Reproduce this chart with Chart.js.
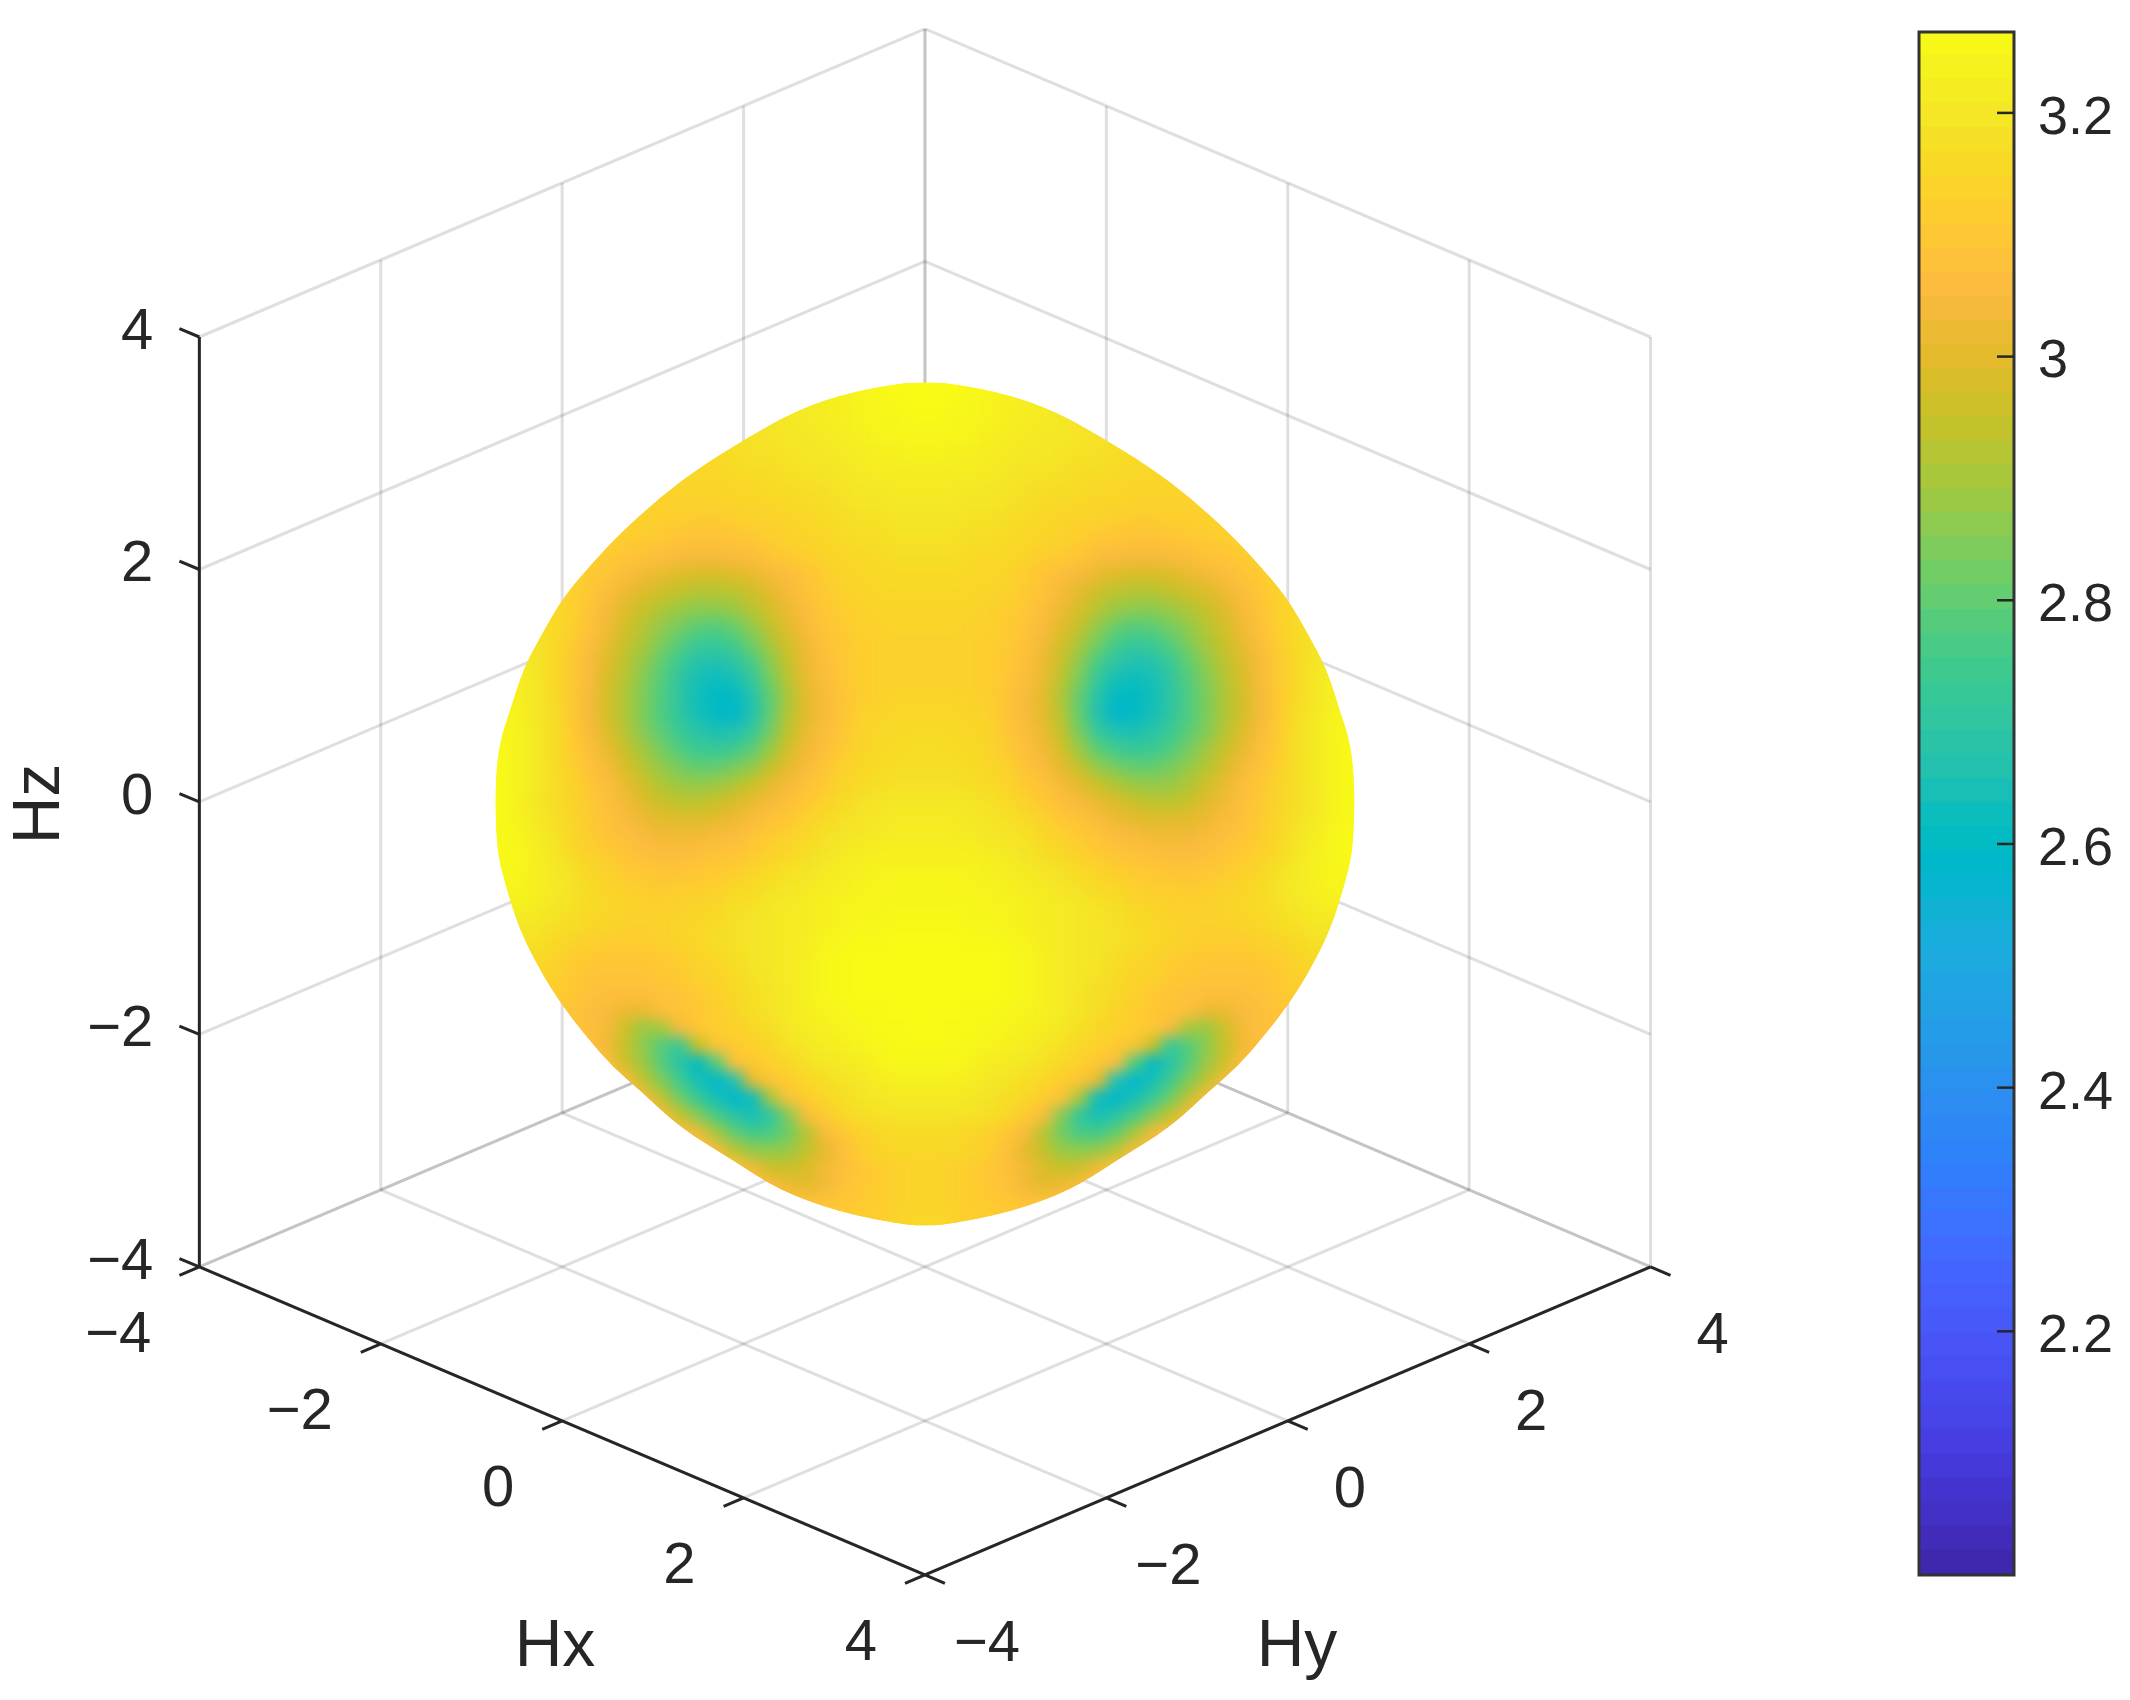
<!DOCTYPE html>
<html>
<head>
<meta charset="utf-8">
<title>Hx Hy Hz surface</title>
<script src="https://cdn.jsdelivr.net/npm/chart.js@4"></script>
<style>
  html, body { margin: 0; background: #fff; }
  #wrap { position: relative; width: 2130px; height: 1700px; overflow: hidden; }
  canvas { position: absolute; top: 0; }
  #main { left: 0; }
  #bar { left: 1880px; }
</style>
</head>
<body>
<div id="wrap">
  <canvas id="main" width="2130" height="1700"></canvas>
  <canvas id="bar" width="250" height="1700"></canvas>
</div>
<script>
const axisTicks = [-4, -2, 0, 2, 4];
const colorbarTicks = [2.2, 2.4, 2.6, 2.8, 3, 3.2];
const colorMin = 2.0;
const colorMax = 3.2664;

// parula, 64 steps
const parula = [
  [.2422,.1504,.6603],[.2504,.1650,.7076],[.2578,.1818,.7511],[.2647,.1978,.7952],
  [.2706,.2147,.8364],[.2751,.2342,.8710],[.2783,.2559,.8991],[.2803,.2782,.9221],
  [.2813,.3006,.9414],[.2810,.3228,.9579],[.2795,.3447,.9717],[.2760,.3667,.9829],
  [.2699,.3892,.9906],[.2602,.4123,.9952],[.2440,.4358,.9988],[.2206,.4603,.9973],
  [.1963,.4847,.9892],[.1834,.5074,.9798],[.1786,.5289,.9682],[.1764,.5499,.9520],
  [.1687,.5703,.9359],[.1540,.5902,.9218],[.1460,.6091,.9079],[.1380,.6276,.8973],
  [.1248,.6459,.8883],[.1113,.6635,.8763],[.0952,.6798,.8598],[.0689,.6948,.8394],
  [.0297,.7082,.8163],[.0036,.7203,.7917],[.0067,.7312,.7660],[.0433,.7411,.7394],
  [.0964,.7500,.7120],[.1408,.7584,.6842],[.1717,.7670,.6554],[.1938,.7758,.6251],
  [.2161,.7843,.5923],[.2470,.7918,.5567],[.2906,.7973,.5188],[.3406,.8008,.4789],
  [.3909,.8029,.4354],[.4456,.8024,.3909],[.5044,.7993,.3480],[.5616,.7942,.3045],
  [.6174,.7876,.2612],[.6720,.7793,.2227],[.7242,.7698,.1910],[.7738,.7598,.1646],
  [.8203,.7498,.1535],[.8634,.7406,.1596],[.9035,.7330,.1774],[.9393,.7288,.2100],
  [.9728,.7298,.2394],[.9956,.7434,.2371],[.9970,.7659,.2199],[.9952,.7861,.1967],
  [.9892,.8135,.1758],[.9786,.8386,.1555],[.9676,.8639,.1426],[.9610,.8890,.1537],
  [.9597,.9135,.1423],[.9628,.9373,.1265],[.9691,.9606,.1064],[.9769,.9839,.0805]
];

// surface on a view grid (left half, the view is mirror symmetric)
const surfaceU = [-4.7,-4.5,-4.3,-4.1,-3.9,-3.7,-3.5,-3.3,-3.1,-2.9,-2.7,-2.5,-2.3,-2.1,-1.9,-1.7,-1.5,-1.3,-1.1,-.9,-.7,-.5,-.3,-.1];
const surfaceV = [3.75,3.6,3.45,3.3,3.15,3,2.85,2.7,2.55,2.4,2.25,2.1,1.95,1.8,1.65,1.5,1.35,1.2,1.05,.9,.75,.6,.45,.3,.15,0,-.15,-.3,-.45,-.6,-.75,-.9,-1.05,-1.2,-1.35,-1.5,-1.65,-1.8,-1.95,-2.1,-2.25,-2.4,-2.55,-2.7,-2.85,-3,-3.15,-3.3,-3.45,-3.6,-3.75];
const surfaceLeft = [
  [3.2,3.2,3.2,3.2,3.2,3.2,3.2,3.2,3.2,3.2,3.2,3.2,3.2,3.2,3.2,3.2,3.22,3.23,3.24,3.25,3.26,3.26,3.27,3.27],
  [3.2,3.2,3.2,3.2,3.2,3.2,3.2,3.2,3.2,3.2,3.2,3.2,3.2,3.2,3.2,3.2,3.22,3.23,3.24,3.25,3.26,3.26,3.27,3.27],
  [3.19,3.19,3.19,3.19,3.19,3.19,3.19,3.19,3.19,3.19,3.19,3.19,3.19,3.19,3.2,3.2,3.2,3.21,3.22,3.23,3.24,3.25,3.26,3.27],
  [3.19,3.19,3.19,3.19,3.19,3.19,3.19,3.19,3.19,3.19,3.19,3.19,3.19,3.19,3.19,3.19,3.2,3.21,3.22,3.23,3.24,3.25,3.25,3.26],
  [3.18,3.18,3.18,3.18,3.18,3.18,3.18,3.18,3.18,3.18,3.18,3.18,3.18,3.18,3.18,3.19,3.2,3.2,3.21,3.22,3.23,3.24,3.25,3.25],
  [3.16,3.16,3.16,3.16,3.16,3.16,3.16,3.16,3.16,3.16,3.16,3.16,3.16,3.17,3.18,3.18,3.19,3.2,3.2,3.21,3.22,3.23,3.23,3.24],
  [3.15,3.15,3.15,3.15,3.15,3.15,3.15,3.15,3.15,3.15,3.15,3.15,3.15,3.16,3.17,3.17,3.18,3.19,3.19,3.2,3.21,3.22,3.22,3.22],
  [3.14,3.14,3.14,3.14,3.14,3.14,3.14,3.14,3.14,3.14,3.14,3.14,3.14,3.15,3.15,3.16,3.17,3.17,3.18,3.19,3.2,3.2,3.21,3.21],
  [3.13,3.13,3.13,3.13,3.13,3.13,3.13,3.13,3.13,3.13,3.13,3.13,3.13,3.14,3.14,3.15,3.15,3.16,3.17,3.18,3.19,3.19,3.2,3.2],
  [3.13,3.13,3.13,3.13,3.13,3.13,3.13,3.13,3.13,3.12,3.12,3.11,3.11,3.12,3.13,3.13,3.14,3.15,3.16,3.17,3.18,3.18,3.19,3.19],
  [3.13,3.13,3.13,3.13,3.13,3.13,3.13,3.12,3.11,3.1,3.09,3.08,3.08,3.09,3.1,3.12,3.13,3.14,3.15,3.16,3.17,3.17,3.18,3.18],
  [3.13,3.13,3.13,3.13,3.13,3.13,3.11,3.09,3.08,3.06,3.05,3.04,3.04,3.05,3.06,3.09,3.11,3.12,3.14,3.15,3.15,3.16,3.17,3.17],
  [3.15,3.15,3.15,3.15,3.15,3.11,3.09,3.06,3.03,3.01,2.99,2.98,2.98,2.99,3.01,3.04,3.06,3.09,3.12,3.14,3.15,3.15,3.16,3.16],
  [3.15,3.15,3.15,3.15,3.13,3.1,3.06,3.02,2.99,2.96,2.94,2.92,2.92,2.93,2.96,3,3.04,3.08,3.11,3.13,3.14,3.15,3.15,3.15],
  [3.16,3.16,3.16,3.16,3.13,3.09,3.04,2.99,2.95,2.91,2.88,2.86,2.86,2.88,2.92,2.97,3.02,3.06,3.1,3.12,3.13,3.14,3.14,3.14],
  [3.19,3.19,3.19,3.16,3.13,3.08,3.03,2.97,2.92,2.87,2.83,2.79,2.78,2.81,2.87,2.94,3,3.05,3.09,3.11,3.13,3.13,3.14,3.14],
  [3.19,3.19,3.19,3.16,3.12,3.06,3.01,2.95,2.9,2.84,2.78,2.73,2.72,2.75,2.82,2.9,2.97,3.03,3.08,3.11,3.12,3.13,3.13,3.13],
  [3.22,3.22,3.19,3.16,3.11,3.05,2.99,2.93,2.87,2.8,2.73,2.67,2.66,2.69,2.76,2.86,2.95,3.02,3.07,3.1,3.12,3.13,3.13,3.13],
  [3.23,3.23,3.2,3.16,3.11,3.05,2.98,2.92,2.85,2.78,2.7,2.64,2.62,2.64,2.71,2.83,2.93,3.01,3.06,3.1,3.12,3.13,3.13,3.13],
  [3.24,3.23,3.2,3.16,3.11,3.04,2.97,2.91,2.84,2.77,2.7,2.63,2.6,2.6,2.67,2.8,2.91,3,3.05,3.09,3.12,3.13,3.14,3.14],
  [3.25,3.24,3.2,3.17,3.11,3.04,2.97,2.91,2.84,2.77,2.7,2.64,2.6,2.58,2.66,2.8,2.92,3,3.05,3.09,3.13,3.14,3.15,3.15],
  [3.25,3.24,3.21,3.17,3.12,3.05,2.99,2.92,2.85,2.79,2.73,2.68,2.65,2.66,2.72,2.83,2.94,3.01,3.06,3.1,3.14,3.15,3.16,3.16],
  [3.26,3.24,3.21,3.17,3.12,3.07,3.01,2.95,2.89,2.83,2.77,2.73,2.72,2.74,2.79,2.88,2.97,3.03,3.07,3.11,3.14,3.16,3.16,3.17],
  [3.26,3.24,3.21,3.17,3.13,3.08,3.04,2.98,2.92,2.87,2.83,2.8,2.8,2.83,2.87,2.94,3,3.05,3.09,3.13,3.15,3.16,3.17,3.17],
  [3.26,3.24,3.21,3.17,3.14,3.1,3.06,3.01,2.96,2.91,2.88,2.87,2.88,2.91,2.95,3,3.04,3.08,3.11,3.14,3.16,3.17,3.18,3.18],
  [3.26,3.24,3.2,3.17,3.14,3.11,3.07,3.03,2.99,2.95,2.93,2.93,2.95,2.98,3.01,3.04,3.07,3.1,3.13,3.16,3.18,3.19,3.2,3.2],
  [3.26,3.24,3.21,3.18,3.15,3.11,3.08,3.05,3.02,3,2.99,2.99,3,3.02,3.05,3.08,3.1,3.13,3.16,3.18,3.19,3.2,3.21,3.21],
  [3.26,3.25,3.22,3.19,3.15,3.12,3.09,3.07,3.05,3.03,3.03,3.03,3.05,3.06,3.09,3.11,3.13,3.15,3.18,3.19,3.2,3.21,3.22,3.22],
  [3.26,3.25,3.23,3.2,3.16,3.13,3.11,3.09,3.07,3.06,3.06,3.07,3.08,3.09,3.11,3.13,3.15,3.17,3.19,3.21,3.22,3.23,3.23,3.23],
  [3.25,3.25,3.23,3.21,3.18,3.15,3.13,3.11,3.1,3.09,3.09,3.1,3.11,3.12,3.14,3.16,3.18,3.19,3.21,3.22,3.23,3.24,3.24,3.24],
  [3.24,3.24,3.23,3.21,3.19,3.16,3.14,3.13,3.12,3.11,3.12,3.12,3.13,3.15,3.16,3.18,3.19,3.21,3.22,3.23,3.24,3.24,3.25,3.25],
  [3.23,3.23,3.22,3.2,3.18,3.16,3.15,3.14,3.13,3.13,3.13,3.14,3.15,3.17,3.18,3.2,3.21,3.22,3.23,3.24,3.24,3.25,3.25,3.25],
  [3.2,3.2,3.2,3.18,3.17,3.15,3.14,3.13,3.13,3.13,3.14,3.15,3.16,3.18,3.19,3.2,3.21,3.22,3.23,3.24,3.25,3.25,3.26,3.26],
  [3.18,3.18,3.18,3.16,3.14,3.13,3.12,3.12,3.12,3.13,3.14,3.15,3.17,3.18,3.19,3.2,3.21,3.22,3.24,3.25,3.26,3.26,3.27,3.27],
  [3.16,3.16,3.16,3.14,3.12,3.11,3.1,3.1,3.1,3.11,3.12,3.14,3.15,3.17,3.19,3.2,3.21,3.23,3.25,3.26,3.27,3.27,3.27,3.27],
  [3.14,3.14,3.14,3.13,3.11,3.09,3.09,3.09,3.09,3.1,3.11,3.13,3.14,3.16,3.18,3.2,3.21,3.23,3.25,3.26,3.27,3.27,3.27,3.27],
  [3.12,3.12,3.12,3.12,3.1,3.08,3.07,3.07,3.07,3.08,3.09,3.11,3.13,3.15,3.17,3.19,3.21,3.23,3.25,3.26,3.27,3.27,3.27,3.27],
  [3.1,3.1,3.1,3.1,3.09,3.07,3.05,3.02,3.02,3.07,3.09,3.1,3.12,3.14,3.17,3.19,3.21,3.23,3.24,3.25,3.26,3.26,3.27,3.27],
  [3.08,3.08,3.08,3.08,3.09,3.07,3.04,2.96,2.88,2.9,3.05,3.1,3.12,3.13,3.15,3.17,3.2,3.22,3.23,3.24,3.25,3.26,3.26,3.27],
  [3.07,3.07,3.07,3.07,3.07,3.07,3.03,2.95,2.86,2.78,2.72,2.95,3.09,3.11,3.13,3.15,3.18,3.2,3.22,3.23,3.24,3.25,3.26,3.26],
  [3.07,3.07,3.07,3.07,3.07,3.07,3.06,2.96,2.88,2.78,2.68,2.6,2.78,3.07,3.1,3.13,3.15,3.18,3.2,3.21,3.22,3.24,3.25,3.25],
  [3.07,3.07,3.07,3.07,3.07,3.07,3.07,3.05,2.94,2.84,2.74,2.64,2.58,2.66,3.01,3.09,3.12,3.15,3.17,3.19,3.2,3.22,3.23,3.23],
  [3.07,3.07,3.07,3.07,3.07,3.07,3.07,3.07,3.05,2.94,2.82,2.72,2.64,2.58,2.62,2.9,3.08,3.12,3.15,3.17,3.19,3.2,3.21,3.21],
  [3.07,3.07,3.07,3.07,3.07,3.07,3.07,3.07,3.07,3.05,2.95,2.85,2.76,2.68,2.64,2.7,2.85,3.06,3.11,3.15,3.17,3.18,3.19,3.19],
  [3.07,3.07,3.07,3.07,3.07,3.07,3.07,3.07,3.07,3.07,3.07,3.03,2.9,2.8,2.75,2.76,2.82,2.92,3.05,3.1,3.13,3.15,3.16,3.16],
  [3.08,3.08,3.08,3.08,3.08,3.08,3.08,3.08,3.08,3.08,3.08,3.08,3.05,2.93,2.87,2.86,2.88,2.94,3,3.07,3.12,3.14,3.15,3.15],
  [3.08,3.08,3.08,3.08,3.08,3.08,3.08,3.08,3.08,3.08,3.08,3.08,3.08,3.08,3.03,2.96,2.95,2.98,3.03,3.07,3.1,3.12,3.13,3.14],
  [3.08,3.08,3.08,3.08,3.08,3.08,3.08,3.08,3.08,3.08,3.08,3.08,3.08,3.08,3.08,3.05,3.02,3,3.03,3.08,3.1,3.12,3.13,3.14],
  [3.1,3.1,3.1,3.1,3.1,3.1,3.1,3.1,3.1,3.1,3.1,3.1,3.1,3.1,3.1,3.1,3.08,3.08,3.08,3.1,3.11,3.12,3.13,3.14],
  [3.12,3.12,3.12,3.12,3.12,3.12,3.12,3.12,3.12,3.12,3.12,3.12,3.12,3.12,3.12,3.12,3.12,3.12,3.12,3.12,3.12,3.12,3.14,3.15],
  [3.12,3.12,3.12,3.12,3.12,3.12,3.12,3.12,3.12,3.12,3.12,3.12,3.12,3.12,3.12,3.12,3.12,3.12,3.12,3.12,3.12,3.12,3.14,3.15]
];

// silhouette of the surface, left side, top to bottom
const outlineU = [0,-.31,-.94,-1.46,-1.96,-2.48,-2.92,-3.36,-3.66,-3.99,-4.24,-4.43,-4.58,-4.69,-4.74,-4.72,-4.63,-4.47,-4.24,-4.02,-3.73,-3.44,-3.14,-2.7,-2.12,-1.6,-.94,-.2,0];
const outlineV = [3.61,3.6,3.5,3.35,3.13,2.88,2.62,2.31,2.06,1.76,1.42,1.14,.77,.51,.13,-.41,-.7,-1.1,-1.45,-1.73,-2.02,-2.28,-2.48,-2.8,-3.08,-3.34,-3.53,-3.64,-3.64];

const textColor = "#262626";
const fontName = "'Liberation Sans', Arial, sans-serif";

// view of the 3d box: the chart's own x/y scales are in these view units
function view(hx, hy, hz) {
  return { x: hx + hy, y: hz - 0.3312 * (hx - hy) };
}

function mapColor(v) {
  const t = Math.min(63, Math.max(0, (v - colorMin) / (colorMax - colorMin) * 63));
  const i = Math.floor(t);
  const j = Math.min(63, i + 1);
  const f = t - i;
  const c = [0, 1, 2].map(k => Math.round(255 * (parula[i][k] * (1 - f) + parula[j][k] * f)));
  return "rgb(" + c.join(",") + ")";
}

function lineSet(a, b, color, width) {
  return {
    data: [view(a[0], a[1], a[2]), view(b[0], b[1], b[2])],
    showLine: true,
    borderColor: color,
    borderWidth: width,
    pointRadius: 0
  };
}

// back walls and floor
const gridSets = [];
const gridColor = "rgba(38,38,38,0.15)";
axisTicks.forEach(t => {
  gridSets.push(lineSet([-4, t, -4], [-4, t, 4], gridColor, 3));
  gridSets.push(lineSet([-4, -4, t], [-4, 4, t], gridColor, 3));
  gridSets.push(lineSet([t, 4, -4], [t, 4, 4], gridColor, 3));
  gridSets.push(lineSet([-4, 4, t], [4, 4, t], gridColor, 3));
  gridSets.push(lineSet([t, -4, -4], [t, 4, -4], gridColor, 3));
  gridSets.push(lineSet([-4, t, -4], [4, t, -4], gridColor, 3));
});

// axis lines and slanted ticks
const axisSets = [
  lineSet([-4, -4, -4], [-4, -4, 4], textColor, 3),
  lineSet([-4, -4, -4], [4, -4, -4], textColor, 3),
  lineSet([4, -4, -4], [4, 4, -4], textColor, 3)
];
const tickLen = 0.22;
axisTicks.forEach(t => {
  axisSets.push(lineSet([-4, -4, t], [-4 - tickLen, -4, t], textColor, 3));
  axisSets.push(lineSet([t, -4, -4], [t, -4 - tickLen, -4], textColor, 3));
  axisSets.push(lineSet([4, t, -4], [4 + tickLen, t, -4], textColor, 3));
});

// surface cells
const surfacePoints = [];
const surfaceColors = [];
surfaceV.forEach((v, r) => {
  surfaceU.forEach((u, c) => {
    surfacePoints.push({ x: u, y: v });
    surfaceColors.push(mapColor(surfaceLeft[r][c]));
    surfacePoints.push({ x: -u, y: v });
    surfaceColors.push(mapColor(surfaceLeft[r][c]));
  });
});

const surfaceSet = {
  label: "surface",
  data: surfacePoints,
  pointStyle: "rect",
  pointRadius: 13.5,
  pointBorderWidth: 0,
  pointBackgroundColor: surfaceColors
};

// draws the surface cells off screen, then puts them back soft and cut to the outline
const softSurface = {
  id: "softSurface",
  beforeDatasetDraw(chart, args) {
    if (chart.data.datasets[args.index].label !== "surface") return;
    const off = document.createElement("canvas");
    off.width = chart.width;
    off.height = chart.height;
    const offCtx = off.getContext("2d");
    args.meta.data.forEach(p => p.draw(offCtx, chart.chartArea));

    const sx = chart.scales.x, sy = chart.scales.y;
    const ctx = chart.ctx;
    const path = [];
    outlineU.forEach((u, i) => path.push([sx.getPixelForValue(u), sy.getPixelForValue(outlineV[i])]));
    for (let i = outlineU.length - 2; i > 0; i--) {
      path.push([sx.getPixelForValue(-outlineU[i]), sy.getPixelForValue(outlineV[i])]);
    }
    ctx.save();
    ctx.beginPath();
    path.forEach((p, i) => {
      const n = path[(i + 1) % path.length];
      const mid = [(p[0] + n[0]) / 2, (p[1] + n[1]) / 2];
      if (i === 0) ctx.moveTo(mid[0], mid[1]);
      else ctx.quadraticCurveTo(p[0], p[1], mid[0], mid[1]);
    });
    ctx.quadraticCurveTo(path[0][0], path[0][1], (path[0][0] + path[1][0]) / 2, (path[0][1] + path[1][1]) / 2);
    ctx.closePath();
    ctx.clip();
    ctx.drawImage(off, 0, 0);
    ctx.filter = "blur(7px)";
    ctx.drawImage(off, 0, 0);
    ctx.restore();
    return false;
  }
};

const axisText = {
  id: "axisText",
  afterDraw(chart) {
    const ctx = chart.ctx;
    const sx = chart.scales.x, sy = chart.scales.y;
    const at = (hx, hy, hz) => {
      const p = view(hx, hy, hz);
      return [sx.getPixelForValue(p.x), sy.getPixelForValue(p.y)];
    };
    const minus = t => (t < 0 ? "\u2212" + Math.abs(t) : String(t));
    ctx.save();
    ctx.fillStyle = textColor;
    ctx.textBaseline = "middle";
    ctx.font = "58px " + fontName;
    axisTicks.forEach(t => {
      let p = at(-4, -4, t);
      ctx.textAlign = "right";
      ctx.fillText(minus(t), p[0] - 46, p[1] - 4);
      p = at(t, -4, -4);
      ctx.fillText(minus(t), p[0] - 48, p[1] + 69);
      p = at(4, t, -4);
      ctx.textAlign = "center";
      ctx.fillText(minus(t), p[0] + 62, p[1] + 70);
    });
    ctx.font = "66px " + fontName;
    ctx.textAlign = "center";
    ctx.fillText("Hx", 555, 1648);
    ctx.fillText("Hy", 1297, 1648);
    ctx.translate(41, 804);
    ctx.rotate(-Math.PI / 2);
    ctx.fillText("Hz", 0, 0);
    ctx.restore();
  }
};

new Chart(document.getElementById("main"), {
  type: "scatter",
  data: { datasets: [...axisSets, surfaceSet, ...gridSets] },
  options: {
    responsive: false,
    animation: false,
    events: [],
    layout: { padding: 0, autoPadding: false },
    plugins: { legend: { display: false }, tooltip: { enabled: false } },
    scales: {
      x: { type: "linear", display: false, min: -10.198, max: 13.286 },
      y: { type: "linear", display: false, min: -7.725, max: 6.899 }
    }
  },
  plugins: [softSurface, axisText]
});

// colorbar
const barSets = parula.map((c, i) => {
  const step = (colorMax - colorMin) / parula.length;
  return {
    data: [[colorMin + i * step, colorMin + (i + 1) * step + 0.001]],
    backgroundColor: mapColor(colorMin + (i + 0.5) * step),
    grouped: false,
    barPercentage: 1,
    categoryPercentage: 1,
    borderWidth: 0
  };
});

const barFrame = {
  id: "barFrame",
  afterDraw(chart) {
    const a = chart.chartArea;
    const ctx = chart.ctx;
    const sy = chart.scales.y;
    ctx.save();
    ctx.strokeStyle = "#333333";
    ctx.lineWidth = 3;
    ctx.strokeRect(a.left, a.top, a.right - a.left, a.bottom - a.top);
    ctx.strokeStyle = textColor;
    ctx.lineWidth = 2.5;
    colorbarTicks.forEach(t => {
      const y = sy.getPixelForValue(t);
      ctx.beginPath();
      ctx.moveTo(a.right - 17, y);
      ctx.lineTo(a.right, y);
      ctx.stroke();
    });
    ctx.restore();
  }
};

new Chart(document.getElementById("bar"), {
  type: "bar",
  data: { labels: [""], datasets: barSets },
  options: {
    responsive: false,
    animation: false,
    events: [],
    layout: { padding: { left: 39, top: 32, bottom: 125 }, autoPadding: false },
    plugins: { legend: { display: false }, tooltip: { enabled: false } },
    scales: {
      x: { display: false },
      y: {
        position: "right",
        min: colorMin,
        max: colorMax,
        grid: { display: false, drawTicks: false },
        border: { display: false },
        afterBuildTicks(scale) { scale.ticks = colorbarTicks.map(v => ({ value: v })); },
        afterFit(scale) {
          scale.width = 116;
          scale.paddingTop = 0;
          scale.paddingBottom = 0;
        },
        ticks: {
          color: textColor,
          padding: 24,
          labelOffset: 6,
          font: { family: fontName, size: 54 },
          autoSkip: false,
          callback: v => String(v)
        }
      }
    }
  },
  plugins: [barFrame]
});
</script>
</body>
</html>
